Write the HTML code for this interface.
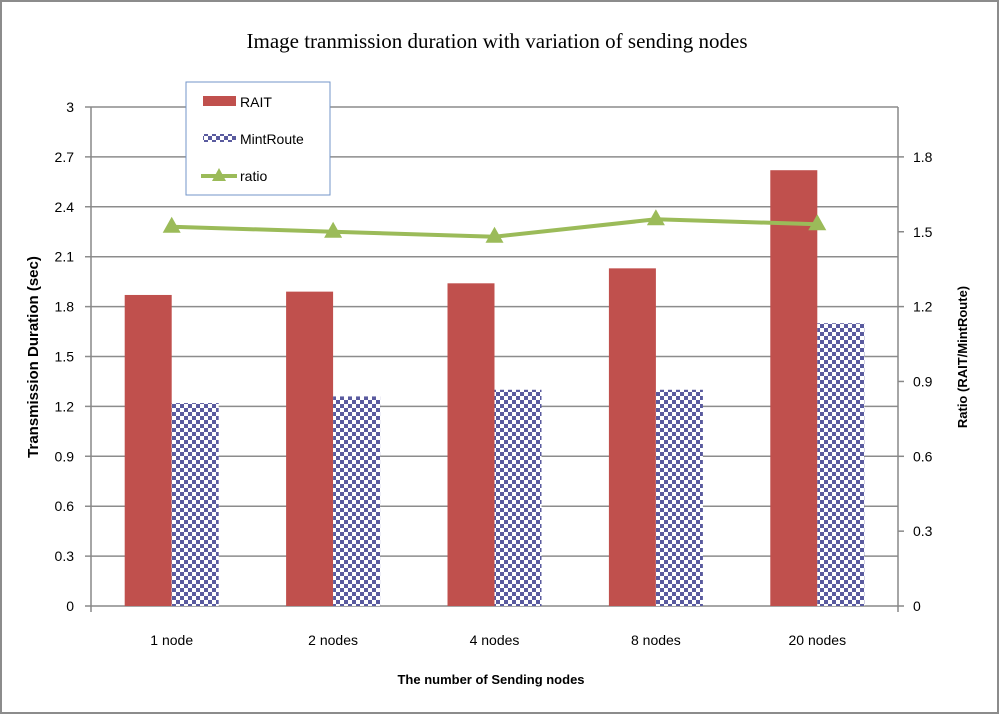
<!DOCTYPE html>
<html><head><meta charset="utf-8"><style>
body{margin:0;background:#fff}
svg{display:block;font-family:"Liberation Sans",sans-serif}
</style></head><body>
<svg id="c" width="1000" height="715">
<defs><pattern id="chk" width="8" height="8" patternUnits="userSpaceOnUse"><rect width="8" height="8" fill="#fff"/><rect width="4" height="4" fill="#5a5b9f"/><rect x="4" y="4" width="4" height="4" fill="#5a5b9f"/></pattern></defs>
<rect x="1" y="1" width="997" height="712" fill="#fff" stroke="#8c8c8c" stroke-width="2"/>
<text x="497" y="48" text-anchor="middle" font-family="Liberation Serif,serif" font-size="21">Image tranmission duration with variation of sending nodes</text>
<g id="grid"></g><g id="marks"></g>
<text x="491" y="684" text-anchor="middle" font-size="13" font-weight="bold">The number of Sending nodes</text>
<text transform="translate(38,357) rotate(-90)" text-anchor="middle" font-size="15" font-weight="bold">Transmission Duration (sec)</text>
<text transform="translate(967,357) rotate(-90)" text-anchor="middle" font-size="13" font-weight="bold">Ratio (RAIT/MintRoute)</text>
<g>
<rect x="186" y="82" width="144" height="113" fill="#fff" stroke="#7396c8"/>
<rect x="203" y="96" width="33" height="10" fill="#c0504d"/>
<text x="240" y="107" font-size="14">RAIT</text>
<rect x="203" y="134" width="33" height="8" fill="url(#chk)"/>
<text x="240" y="144" font-size="14">MintRoute</text>
<line x1="201" y1="176" x2="237" y2="176" stroke="#9bbb59" stroke-width="4"/>
<polygon points="219,168 226,181 212,181" fill="#9bbb59"/>
<text x="240" y="181" font-size="14">ratio</text>
</g>
</svg>
<script>
const categories=["1 node","2 nodes","4 nodes","8 nodes","20 nodes"];
const rait=[1.87,1.89,1.94,2.03,2.62];
const mint=[1.22,1.26,1.30,1.30,1.70];
const ratio=[1.52,1.50,1.48,1.55,1.53];
const leftTicks=[0,0.3,0.6,0.9,1.2,1.5,1.8,2.1,2.4,2.7,3];
const rightTicks=[0,0.3,0.6,0.9,1.2,1.5,1.8];
const NS="http://www.w3.org/2000/svg";
const X0=91,X1=898,Y0=606,Y1=107;
const yL=v=>Y0-(v/3)*(Y0-Y1);
const yR=v=>Y0-(v/2)*(Y0-Y1);
const cw=(X1-X0)/categories.length;
const xc=i=>X0+cw*(i+0.5);
function mk(t,a,p){const e=document.createElementNS(NS,t);for(const k in a)e.setAttribute(k,a[k]);(p||document.getElementById('marks')).appendChild(e);return e;}
const g=document.getElementById('grid');
leftTicks.forEach(v=>{
 const l=mk('line',{x1:X0-6,x2:X1,y1:yL(v),y2:yL(v),stroke:v===0?'#888':'#8c8c8c','stroke-width':1.5},g);
 
 
 const t=mk('text',{x:X0-17,y:yL(v)+5,'text-anchor':'end','font-size':14},g);t.textContent=String(v);
 
 
});
rightTicks.forEach(v=>{
 mk('line',{x1:X1,x2:X1+6,y1:yR(v),y2:yR(v),stroke:'#888','stroke-width':1.5},g);
 const t=mk('text',{x:X1+15,y:yR(v)+5,'font-size':14},g);t.textContent=String(v);
 
 
});
mk('line',{x1:X0,x2:X0,y1:Y1,y2:Y0+6,stroke:'#888','stroke-width':1.5},g);
mk('line',{x1:X1,x2:X1,y1:Y1,y2:Y0+6,stroke:'#888','stroke-width':1.5},g);
categories.forEach((c,i)=>{
 const t=mk('text',{x:xc(i),y:645,'text-anchor':'middle','font-size':14},g);t.textContent=c;
 
 
 const bw=47;
 const r=mk('rect',{x:xc(i)-bw,y:yL(rait[i]),width:bw,height:Y0-yL(rait[i]),fill:'#c0504d'});
 
 
 const m=mk('rect',{x:xc(i),y:yL(mint[i]),width:bw,height:Y0-yL(mint[i]),fill:'url(#chk)'});
 
 
});
const pl=mk('polyline',{points:ratio.map((v,i)=>xc(i)+','+yR(v)).join(' '),fill:'none',stroke:'#9bbb59','stroke-width':4});


ratio.forEach((v,i)=>{
 const x=xc(i),y=yR(v);
 const p=mk('polygon',{points:`${x},${y-10} ${x+9},${y+6} ${x-9},${y+6}`,fill:'#9bbb59'});
 
 
});
</script>
</body></html>
